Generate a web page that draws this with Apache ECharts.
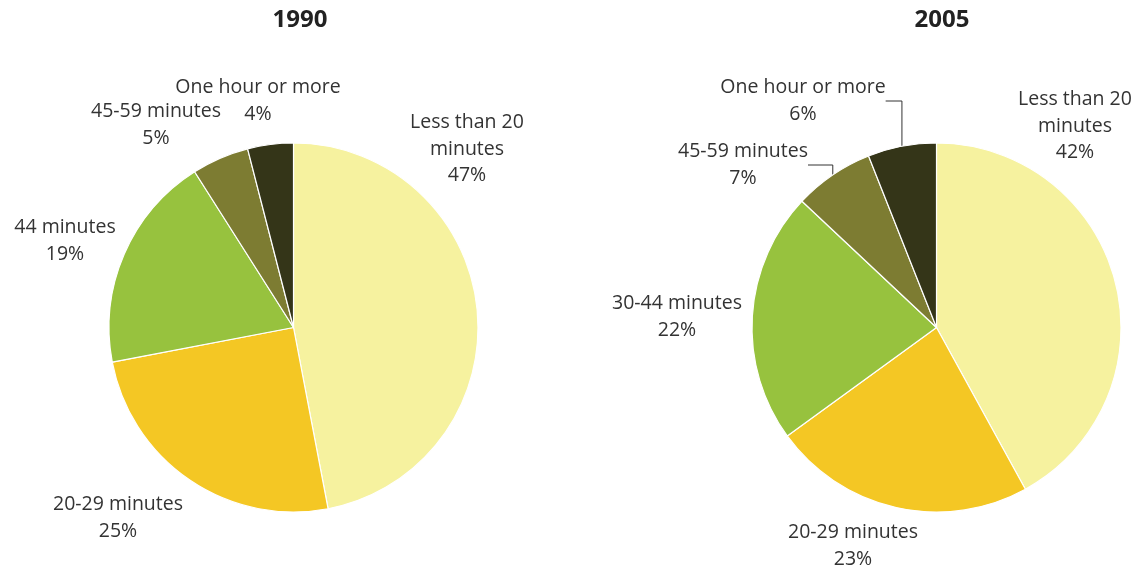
<!DOCTYPE html>
<html>
<head>
<meta charset="utf-8">
<title>Commute times 1990 / 2005</title>
<script src="https://cdn.jsdelivr.net/npm/echarts@6/dist/echarts.min.js"></script>
<style>
  html, body { margin: 0; padding: 0; background: #fff; }
  #chart { width: 1133px; height: 574px; }
</style>
</head>
<body>
<div id="chart"></div>
<script>
    // values (percent)
    var names1990 = ['Less than 20\nminutes', '20-29 minutes', '44 minutes', '45-59 minutes', 'One hour or more'];
    var values1990 = [47, 25, 19, 5, 4];
    var names2005 = ['Less than 20\nminutes', '20-29 minutes', '30-44 minutes', '45-59 minutes', 'One hour or more'];
    var values2005 = [42, 23, 22, 7, 6];
    var years = ['1990', '2005'];

    var sliceColors = ['#f6f29f', '#f4c724', '#97c23e', '#7d7c32', '#343518'];

    // where each label block sits (centre of the text), per pie
    var labelPos = [
        [[467, 149], [118, 518], [65, 241], [156, 125], [258, 101]],
        [[1075, 126], [853, 546], [677, 317], [743, 165], [803, 101]]
    ];

    var myChart = echarts.init(document.getElementById('chart'));

    var makeData = function(names, values, withLines) {
        return names.map(function(n, i) {
            var item = {name: n, value: values[i], itemStyle: {color: sliceColors[i]}};
            if (withLines && i >= 3) {
                item.labelLine = {show: true};
            }
            return item;
        });
    };

    var makeSeries = function(idx, names, values, centerX, withLines) {
        return {
            type: 'pie',
            center: [centerX, 327.5],
            radius: 184.5,
            startAngle: 90,
            clockwise: true,
            animation: false,
            avoidLabelOverlap: false,
            itemStyle: {borderColor: '#fff', borderWidth: 1.2},
            label: {
                show: true,
                position: 'outside',
                formatter: '{b}\n{c}%',
                color: '#333',
                fontFamily: 'Open Sans',
                fontSize: 19.5,
                lineHeight: 26.5,
                align: 'center'
            },
            labelLine: {
                show: false,
                lineStyle: {color: '#333', width: 1}
            },
            labelLayout: function(p) {
                var pos = labelPos[idx][p.dataIndex];
                return {x: pos[0], y: pos[1], align: 'center', verticalAlign: 'middle'};
            },
            emphasis: {disabled: true},
            data: makeData(names, values, withLines)
        };
    };

    var titleStyle = {fontFamily: 'Open Sans', fontWeight: 'bold', fontSize: 24, color: '#222'};

    var option = {
        backgroundColor: '#fff',
        title: [
            {text: years[0], left: 295, top: 3, textAlign: 'center', textStyle: titleStyle},
            {text: years[1], left: 937, top: 3, textAlign: 'center', textStyle: titleStyle}
        ],
        series: [
            makeSeries(0, names1990, values1990, 293.5, false),
            makeSeries(1, names2005, values2005, 936.5, true)
        ]
    };
    myChart.setOption(option);
</script>
</body>
</html>
